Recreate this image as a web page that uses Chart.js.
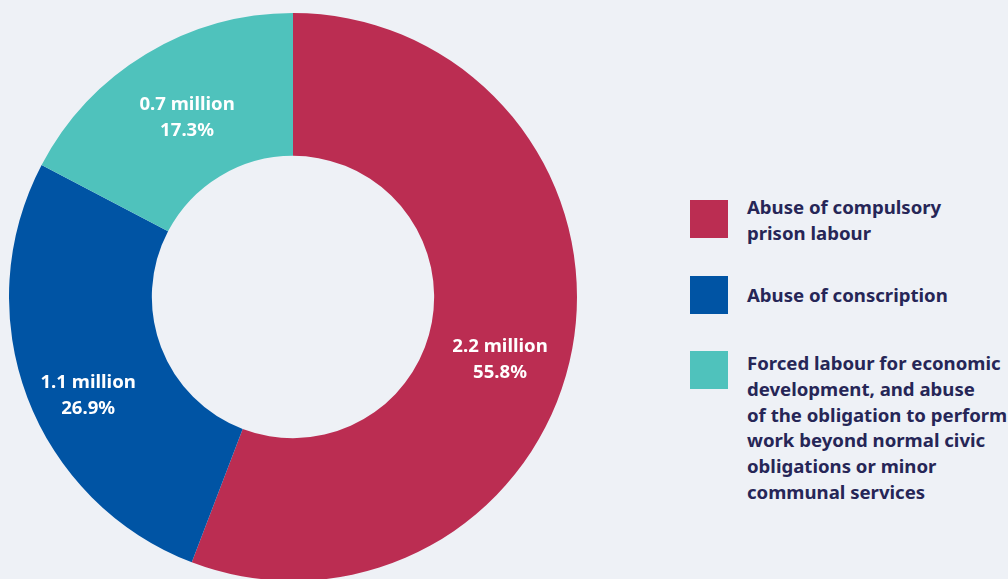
<!DOCTYPE html>
<html>
<head>
<meta charset="utf-8">
<script src="https://cdn.jsdelivr.net/npm/chart.js@4"></script>
<style>
  html, body { margin: 0; padding: 0; width: 1008px; height: 579px; overflow: hidden; background: #eef1f6; }
  #wrap { position: absolute; left: 9px; top: 13px; width: 568px; height: 568px; }
  #legend { position: absolute; left: 690px; top: 200px; font-family: "Noto Sans", sans-serif; font-weight: 700; font-stretch: semi-condensed; color: #262657; font-size: 18.6px; line-height: 25.8px; }
  .item { position: absolute; left: 0; white-space: nowrap; }
  .sw { position: absolute; left: 0; top: 0; width: 38px; height: 38px; }
  .txt { position: absolute; left: 57px; }
</style>
</head>
<body>
<div id="wrap"><canvas id="c"></canvas></div>
<div id="legend"></div>
<script>
const categories = [
  ["Abuse of compulsory", "prison labour"],
  ["Abuse of conscription"],
  ["Forced labour for economic", "development, and abuse", "of the obligation to perform", "work beyond normal civic", "obligations or minor", "communal services"]
];
const millions = ["2.2 million", "1.1 million", "0.7 million"];
const shares = [55.8, 26.9, 17.3];
const colors = ["#bb2d52", "#0054a4", "#4fc2bc"];

// legend layout
const legendTops = [0, 76, 151];
const legendTextTops = [-6, 6, -1];
const lg = document.getElementById('legend');
categories.forEach((lines, i) => {
  const it = document.createElement('div');
  it.className = 'item';
  it.style.top = legendTops[i] + 'px';
  const sw = document.createElement('div');
  sw.className = 'sw';
  sw.style.background = colors[i];
  const tx = document.createElement('div');
  tx.className = 'txt';
  tx.style.top = legendTextTops[i] + 'px';
  tx.innerHTML = lines.join('<br>');
  it.appendChild(sw); it.appendChild(tx);
  lg.appendChild(it);
});

const labelShift = [[-2, 24], [-6, 24], [4, 3]];
const labelPlugin = {
  id: 'arcLabels',
  afterDatasetsDraw(chart) {
    const ctx = chart.ctx;
    const meta = chart.getDatasetMeta(0);
    ctx.save();
    ctx.fillStyle = '#ffffff';
    ctx.textAlign = 'center';
    ctx.textBaseline = 'middle';
    try { ctx.fontStretch = 'semi-condensed'; } catch (e) {}
    ctx.font = '700 18.6px "Noto Sans", sans-serif';
    meta.data.forEach((arc, i) => {
      const p = arc.tooltipPosition();
      const x = p.x + labelShift[i][0];
      const y = p.y + labelShift[i][1];
      ctx.fillText(millions[i], x, y - 13);
      ctx.fillText(shares[i].toFixed(1) + '%', x, y + 13);
    });
    ctx.restore();
  }
};

new Chart(document.getElementById('c'), {
  type: 'doughnut',
  data: {
    labels: categories.map(l => l.join(' ')),
    datasets: [{
      data: shares,
      backgroundColor: colors,
      borderWidth: 0,
      hoverOffset: 0
    }]
  },
  options: {
    responsive: true,
    maintainAspectRatio: false,
    animation: false,
    cutout: '49.7%',
    layout: { padding: 0 },
    plugins: { legend: { display: false }, tooltip: { enabled: false } },
    events: []
  },
  plugins: [labelPlugin]
});
</script>
</body>
</html>
